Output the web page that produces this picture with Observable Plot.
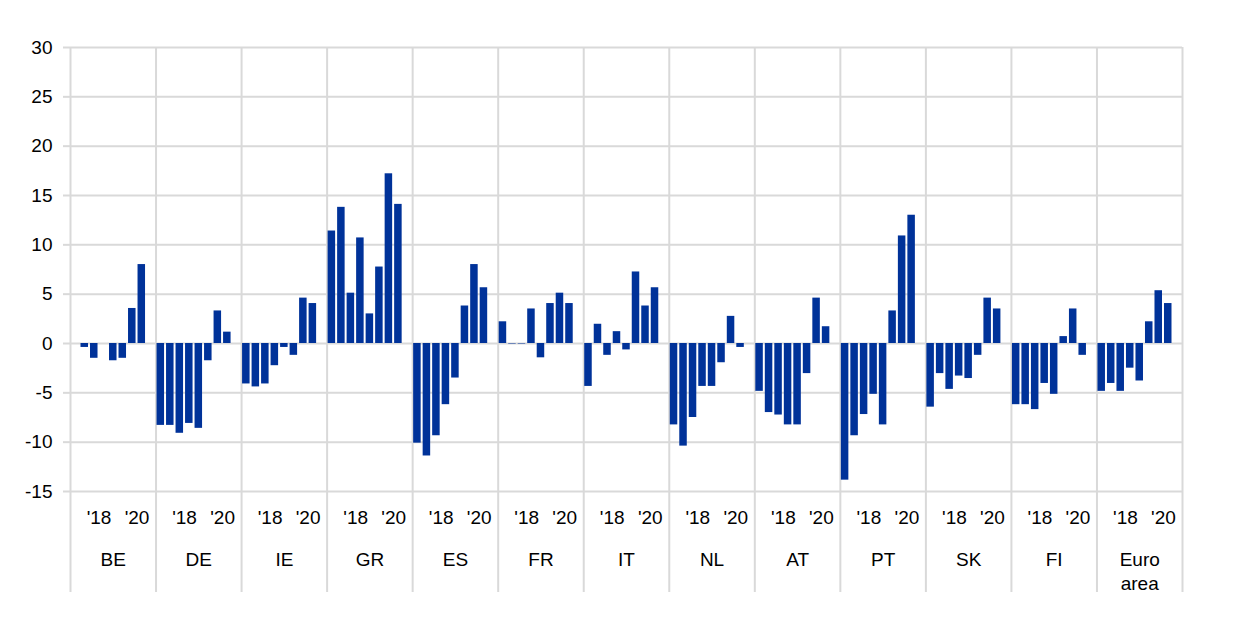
<!DOCTYPE html>
<html>
<head>
<meta charset="utf-8">
<script src="https://cdn.jsdelivr.net/npm/d3@7"></script>
<script src="https://cdn.jsdelivr.net/npm/@observablehq/plot@0.6"></script>
<style>
  html, body { margin: 0; padding: 0; background: #ffffff; }
  #chart { width: 1240px; height: 627px; }
</style>
</head>
<body>
<div id="chart"></div>
<script>
// Categories
const countries = ["BE", "DE", "IE", "GR", "ES", "FR", "IT", "NL", "AT", "PT", "SK", "FI", "Euro area"];
const periods = ["2017H1", "2017H2", "2018H1", "2018H2", "2019H1", "2019H2", "2020H1", "2020H2"];
const yearTickLabels = ["'18", "'20"];
const yearTickPeriods = ["2018H2", "2020H2"];
const yTicks = [-15, -10, -5, 0, 5, 10, 15, 20, 25, 30];

// Series values (percentage changes), one array per country
const BE = [0.0, -0.4, -1.5, 0.0, -1.75, -1.5, 3.55, 8.0];
const DE = [-8.3, -8.3, -9.1, -8.1, -8.6, -1.75, 3.3, 1.15];
const IE = [-4.1, -4.4, -4.1, -2.25, -0.4, -1.2, 4.6, 4.05];
const GR = [11.4, 13.8, 5.1, 10.7, 3.0, 7.75, 17.2, 14.1];
const ES = [-10.1, -11.4, -9.35, -6.2, -3.5, 3.8, 8.0, 5.65];
const FR = [2.2, -0.05, -0.05, 3.5, -1.45, 4.05, 5.1, 4.05];
const IT = [-4.35, 1.95, -1.2, 1.2, -0.65, 7.25, 3.8, 5.65];
const NL = [-8.25, -10.4, -7.5, -4.35, -4.35, -1.95, 2.75, -0.4];
const AT = [-4.85, -7.0, -7.25, -8.25, -8.25, -3.05, 4.6, 1.7];
const PT = [-13.85, -9.35, -7.2, -5.15, -8.25, 3.3, 10.9, 13.0];
const SK = [-6.45, -3.05, -4.65, -3.3, -3.55, -1.2, 4.6, 3.5];
const FI = [-6.2, -6.2, -6.7, -4.05, -5.15, 0.7, 3.5, -1.2];
const EA = [-4.85, -4.05, -4.85, -2.5, -3.8, 2.2, 5.35, 4.05];

const seriesByCountry = [BE, DE, IE, GR, ES, FR, IT, NL, AT, PT, SK, FI, EA];

// Build table: each country group has one slot per period plus one empty spacer slot
const slotsPerGroup = periods.length + 1;
const data = countries.flatMap((c, g) =>
  seriesByCountry[g].map((v, s) => ({country: c, period: periods[s], slot: g * slotsPerGroup + s, value: v}))
);
const boundaries = d3.range(countries.length + 1).map(g => g * slotsPerGroup);
const yearLabels = countries.flatMap((c, g) =>
  yearTickLabels.map((t, k) => ({label: t, pos: g * slotsPerGroup + periods.indexOf(yearTickPeriods[k])}))
);
const countryLabels = countries.map((c, g) => ({
  label: c === "Euro area" ? "Euro\narea" : c,
  pos: g * slotsPerGroup + slotsPerGroup / 2
}));

const grid = "#d9d9d9";
const font = "'Liberation Sans', Arial, 'DejaVu Sans', sans-serif";

const chart = Plot.plot({
  width: 1240,
  height: 627,
  marginLeft: 70,
  marginRight: 58,
  marginTop: 47,
  marginBottom: 136,
  style: {fontFamily: font, fontSize: "19px", color: "#000", background: "#fff", overflow: "visible"},
  x: {type: "linear", domain: [0, countries.length * slotsPerGroup]},
  y: {domain: [-15, 30]},
  marks: [
    Plot.gridY(yTicks, {stroke: grid, strokeOpacity: 1, strokeWidth: 2}),
    Plot.gridX(boundaries, {stroke: grid, strokeOpacity: 1, strokeWidth: 2}),
    Plot.axisY(yTicks, {tickSize: 7, tickPadding: 11, stroke: grid, strokeWidth: 2, fill: "#000", fontSize: 19, label: null, tickFormat: d => String(d)}),
    Plot.axisX(boundaries, {tickSize: 101, stroke: grid, strokeWidth: 2, tickFormat: () => "", label: null}),
    Plot.rectY(data, {x1: "slot", x2: d => d.slot + 1, y: "value", fill: "#003299", insetLeft: 1, insetRight: 1}),
    Plot.text(yearLabels, {x: "pos", text: "label", frameAnchor: "bottom", lineAnchor: "top", dy: 19, fontSize: 19, fill: "#000"}),
    Plot.text(countryLabels, {x: "pos", text: "label", frameAnchor: "bottom", lineAnchor: "top", dy: 58, lineHeight: 1.25, fontSize: 19, fill: "#000"})
  ]
});

document.getElementById("chart").appendChild(chart);
</script>
</body>
</html>
